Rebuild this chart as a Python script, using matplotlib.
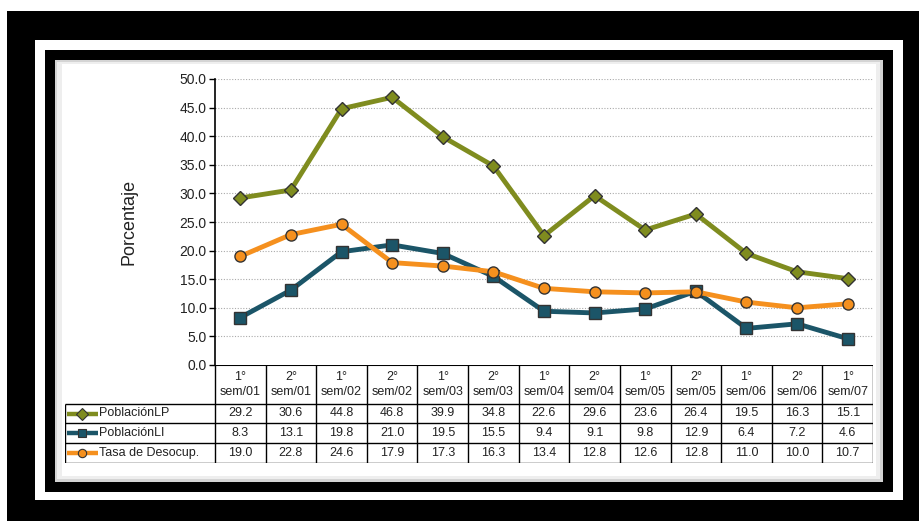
import matplotlib
matplotlib.use("Agg")
import matplotlib.pyplot as plt
from matplotlib.patches import Rectangle

categories = ["1°\nsem/01", "2°\nsem/01", "1°\nsem/02", "2°\nsem/02", "1°\nsem/03", "2°\nsem/03",
              "1°\nsem/04", "2°\nsem/04", "1°\nsem/05", "2°\nsem/05", "1°\nsem/06", "2°\nsem/06", "1°\nsem/07"]
poblacion_lp = [29.2, 30.6, 44.8, 46.8, 39.9, 34.8, 22.6, 29.6, 23.6, 26.4, 19.5, 16.3, 15.1]
poblacion_li = [8.3, 13.1, 19.8, 21.0, 19.5, 15.5, 9.4, 9.1, 9.8, 12.9, 6.4, 7.2, 4.6]
tasa_desocup = [19.0, 22.8, 24.6, 17.9, 17.3, 16.3, 13.4, 12.8, 12.6, 12.8, 11.0, 10.0, 10.7]
series_names = ["PoblaciónLP", "PoblaciónLI", "Tasa de Desocup."]
y_ticks = [0, 5, 10, 15, 20, 25, 30, 35, 40, 45, 50]

colors = ["#7f8c1f", "#1b5568", "#f5901e"]
markers = ["D", "s", "o"]
series = [poblacion_lp, poblacion_li, tasa_desocup]

W, H = 920, 521
fig = plt.figure(figsize=(W / 100, H / 100), dpi=100)
fig.patch.set_facecolor("white")

def px_rect(x0, y0, x1, y1, color, z):
    fig.patches.append(Rectangle((x0 / W, 1 - y1 / H), (x1 - x0) / W, (y1 - y0) / H,
                                 transform=fig.transFigure, facecolor=color, edgecolor="none", zorder=z))

# frames
px_rect(7, 11, 920, 521, "black", 0)
px_rect(35, 40, 903, 500, "white", 1)
px_rect(45, 50, 893, 492, "black", 2)
px_rect(55, 60, 883, 482, "#d4d4d4", 3)
px_rect(57, 62, 880, 479, "#eeeeee", 3)
px_rect(62, 64, 876, 476, "white", 3)

n = len(categories)
x = list(range(n))
L, R, T, B = 215, 873, 79, 365
FONT = "Liberation Sans"

ax = fig.add_axes([L / W, 1 - B / H, (R - L) / W, (B - T) / H])
ax.set_facecolor("none")
ax.set_zorder(5)
ax.set_xlim(-0.5, n - 0.5)
ax.set_ylim(0, 50)
ax.set_yticks(y_ticks)
ax.set_yticklabels([f"{v:.1f}" for v in y_ticks], fontsize=10, family=FONT, color="#222")
ax.set_xticks([])
for s in ["top", "right", "bottom"]:
    ax.spines[s].set_visible(False)
ax.spines["left"].set_linewidth(1.2)
ax.tick_params(axis="y", length=4, width=1, pad=2)
for v in y_ticks[1:]:
    ax.axhline(v, color="#aaaaaa", lw=0.8, ls=(0, (1, 1.5)), zorder=1)
ax.set_ylabel("Porcentaje", fontsize=13, family=FONT, labelpad=30, color="#222")

for vals, c, m in zip(series, colors, markers):
    ax.plot(x, vals, color=c, lw=3.5, marker=m, markersize=8 if m != "D" else 7,
            markerfacecolor=c, markeredgecolor="#333", markeredgewidth=1.0, zorder=3, clip_on=False)

# table
TL = 65
tb = fig.add_axes([TL / W, 1 - 463 / H, (R - TL) / W, (463 - B) / H])
tb.set_zorder(5)
tb.axis("off")
lw_cols = (L - TL) / ((R - L) / n)
tb.set_xlim(-0.5 - lw_cols, n - 0.5)
tb.set_ylim(98, 0)
row_edges = [0, 39, 58, 78, 98]
kw = dict(color="black", lw=1.0, solid_capstyle="butt")
tb.plot([-0.5, n - 0.5], [0, 0], lw=1.5, color="black")
for ye in row_edges[1:]:
    tb.plot([-0.5 - lw_cols, n - 0.5], [ye, ye], **kw)
for i in range(n + 1):
    tb.plot([i - 0.5, i - 0.5], [0, 98], **kw)
tb.plot([-0.5 - lw_cols, -0.5 - lw_cols], [39, 98], **kw)

for i, c in enumerate(categories):
    tb.text(i, 19.5, c, ha="center", va="center", fontsize=9, family=FONT,
            linespacing=1.3, color="#222")
for r, (name, vals, c, m) in enumerate(zip(series_names, series, colors, markers)):
    yc = (row_edges[r + 1] + row_edges[r + 2]) / 2
    for i, v in enumerate(vals):
        tb.text(i, yc, f"{v:.1f}", ha="center", va="center", fontsize=9,
                family=FONT, color="#222")
    x0 = -0.5 - lw_cols + 0.03
    x1 = x0 + 0.62
    tb.plot([x0, x1], [yc, yc], color=c, lw=3.2, solid_capstyle="butt")
    tb.plot([(x0 + x1) / 2], [yc], marker=m, markersize=6, color=c,
            markeredgecolor="#333", markeredgewidth=0.8)
    tb.text(x1 + 0.02, yc, name, ha="left", va="center", fontsize=9,
            family=FONT, color="#222")

fig.savefig("out.png", dpi=100)
